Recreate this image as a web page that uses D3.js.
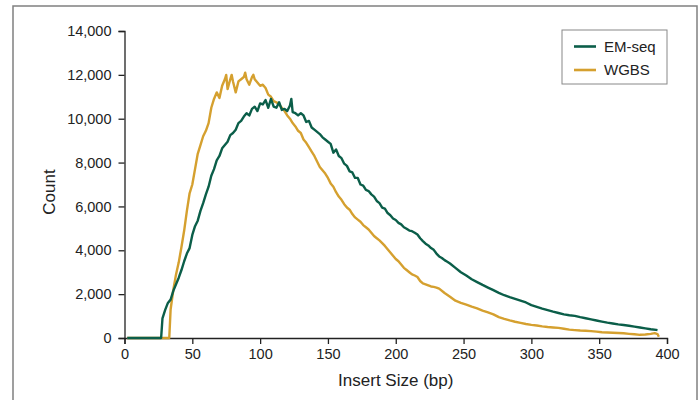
<!DOCTYPE html>
<html>
<head>
  <meta charset="utf-8">
  <title>Insert size distribution</title>
  <script src="https://cdn.jsdelivr.net/npm/d3@7"></script>
  <style>
    body { margin: 0; background: #fff; }
    svg { font-family: "Liberation Sans", Arial, sans-serif; }
    .axis text { font-size: 14.5px; fill: #222; }
    .axis path, .axis line { stroke: #222; stroke-width: 1.3; }
  </style>
</head>
<body>
  <div id="chart"></div>
  <script type="text/javascript">
    // insert size (bp) / read count
    var emSize = [2, 27, 28, 30, 32, 34, 36, 38, 40, 42, 44, 46, 48, 50, 52, 54, 56, 58, 60, 62, 64, 66, 68, 70, 72, 74, 76, 78, 80, 82, 84, 86, 88, 90, 92, 94, 96, 98, 100, 102, 104, 106, 108, 110, 112, 114, 116, 118, 120, 122, 123, 124, 126, 128, 130, 132, 134, 136, 138, 140, 142, 144, 146, 148, 150, 152, 154, 156, 158, 160, 162, 164, 166, 168, 170, 172, 174, 176, 178, 180, 182, 184, 186, 188, 190, 192, 194, 196, 198, 200, 202, 204, 206, 208, 210, 212, 214, 216, 218, 220, 222, 224, 226, 228, 230, 232, 234, 236, 238, 240, 244, 248, 252, 256, 260, 264, 268, 272, 276, 280, 284, 288, 292, 296, 300, 304, 308, 312, 316, 320, 324, 328, 332, 336, 340, 344, 348, 352, 356, 360, 364, 368, 372, 376, 380, 384, 388, 392, 393];
    var emCount = [0, 0, 900, 1280, 1600, 1750, 2150, 2450, 2750, 3100, 3500, 3850, 4100, 4700, 5100, 5350, 5800, 6150, 6550, 6900, 7400, 7700, 8100, 8300, 8650, 8800, 8950, 9250, 9350, 9500, 9800, 9900, 10100, 10250, 10150, 10450, 10550, 10350, 10700, 10650, 10850, 10500, 10900, 10550, 10500, 10750, 10400, 10450, 10350, 10600, 10900, 10300, 10250, 10150, 10250, 10150, 9850, 9900, 9600, 9500, 9400, 9300, 9150, 9050, 8950, 8850, 8450, 8600, 8300, 8200, 7950, 7850, 7600, 7550, 7300, 7300, 7000, 6950, 6750, 6700, 6550, 6450, 6250, 6150, 5950, 5900, 5700, 5600, 5450, 5380, 5250, 5180, 5050, 4980, 4900, 4870, 4800, 4720, 4550, 4420, 4300, 4220, 4100, 4020, 3850, 3720, 3650, 3550, 3480, 3400, 3200, 3000, 2850, 2680, 2550, 2420, 2300, 2180, 2060, 1950, 1860, 1780, 1700, 1620, 1500, 1420, 1340, 1270, 1200, 1140, 1080, 1040, 1010, 950, 900, 850, 800, 750, 700, 660, 620, 590, 560, 520, 480, 440, 400, 370, 360];

    var wgSize = [2, 33, 34, 36, 38, 40, 42, 44, 46, 48, 50, 52, 54, 56, 58, 60, 62, 64, 66, 68, 70, 72, 74, 75, 76, 78, 79, 80, 82, 84, 86, 88, 89, 90, 92, 94, 95, 96, 98, 100, 102, 104, 106, 108, 110, 112, 114, 116, 118, 120, 122, 124, 126, 128, 130, 132, 134, 136, 138, 140, 142, 144, 146, 148, 150, 152, 154, 156, 158, 160, 162, 164, 166, 168, 170, 172, 174, 176, 178, 180, 182, 184, 186, 188, 190, 192, 194, 196, 198, 200, 202, 204, 206, 208, 210, 212, 214, 216, 218, 220, 222, 224, 226, 228, 230, 232, 236, 240, 244, 248, 252, 256, 260, 264, 268, 272, 276, 280, 284, 288, 292, 296, 300, 304, 308, 312, 316, 320, 324, 328, 332, 336, 340, 344, 348, 352, 356, 360, 364, 368, 372, 376, 380, 384, 388, 391, 393, 394];
    var wgCount = [0, 0, 1300, 2200, 2900, 3450, 4150, 4900, 5800, 6600, 7000, 7700, 8400, 8800, 9200, 9450, 9800, 10500, 10900, 11200, 10950, 11500, 11800, 12000, 11350, 11800, 12000, 11700, 11200, 11700, 11800, 11900, 12100, 11800, 11550, 11900, 12000, 11800, 11650, 11500, 11550, 11400, 11100, 11000, 10800, 10750, 10650, 10500, 10350, 10150, 10000, 9800, 9650, 9450, 9350, 9050, 8900, 8700, 8500, 8300, 8050, 7800, 7650, 7500, 7300, 7050, 6900, 6650, 6450, 6300, 6100, 5950, 5850, 5650, 5500, 5400, 5300, 5150, 5050, 4950, 4800, 4650, 4550, 4450, 4330, 4200, 4050, 3900, 3750, 3600, 3500, 3350, 3200, 3100, 3000, 2900, 2850, 2780, 2600, 2490, 2450, 2400, 2350, 2330, 2300, 2250, 2050, 1880, 1700, 1600, 1520, 1430, 1350, 1250, 1170, 1080, 950, 870, 800, 740, 690, 640, 600, 570, 530, 500, 480, 460, 420, 380, 360, 340, 330, 315, 290, 260, 250, 240, 225, 215, 190, 170, 145, 160, 190, 220, 180, 60];

    var xTicks = [0, 50, 100, 150, 200, 250, 300, 350, 400];
    var yTicks = [0, 2000, 4000, 6000, 8000, 10000, 12000, 14000];
    var seriesNames = ["EM-seq", "WGBS"];
    var seriesColors = ["#0b5e49", "#d5a02f"];

    var width = 699, height = 400;
    var svg = d3.select("#chart").append("svg")
      .attr("width", width).attr("height", height);

    // outer frame
    svg.append("rect")
      .attr("x", 13).attr("y", 6)
      .attr("width", 684).attr("height", 420)
      .attr("fill", "none").attr("stroke", "#808080").attr("stroke-width", 1.5);

    var x = d3.scaleLinear().domain([0, 400]).range([124.5, 667]);
    var y = d3.scaleLinear().domain([0, 14000]).range([338, 31]);

    svg.append("g").attr("class", "axis")
      .attr("transform", "translate(0,338)")
      .call(d3.axisBottom(x).tickValues(xTicks).tickSizeOuter(0).tickSize(6).tickPadding(5));

    svg.append("g").attr("class", "axis")
      .attr("transform", "translate(124.5,0)")
      .call(d3.axisLeft(y).tickValues(yTicks).tickFormat(d3.format(",")).tickSizeOuter(0).tickSize(6).tickPadding(7));

    svg.append("text")
      .attr("x", (124.5 + 667) / 2).attr("y", 386)
      .attr("text-anchor", "middle")
      .style("font-size", "17px").attr("fill", "#222")
      .text("Insert Size (bp)");

    svg.append("text")
      .attr("transform", "translate(55,192) rotate(-90)")
      .attr("text-anchor", "middle")
      .style("font-size", "17px").attr("fill", "#222")
      .text("Count");

    var line = d3.line()
      .x(function(d) { return x(d[0]); })
      .y(function(d) { return y(d[1]); });

    var wg = d3.zip(wgSize, wgCount);
    var em = d3.zip(emSize, emCount);

    svg.append("path").datum(wg)
      .attr("d", line)
      .attr("fill", "none").attr("stroke", seriesColors[1])
      .attr("stroke-width", 2.4).attr("stroke-linejoin", "round");

    svg.append("path").datum(em)
      .attr("d", line)
      .attr("fill", "none").attr("stroke", seriesColors[0])
      .attr("stroke-width", 2.4).attr("stroke-linejoin", "round");

    // legend
    var legend = svg.append("g").attr("transform", "translate(562,30)");
    legend.append("rect")
      .attr("width", 105).attr("height", 54)
      .attr("fill", "#fff").attr("stroke", "#888").attr("stroke-width", 1);
    seriesNames.forEach(function(name, i) {
      var ly = 16.5 + i * 23.5;
      legend.append("line")
        .attr("x1", 12).attr("x2", 34).attr("y1", ly).attr("y2", ly)
        .attr("stroke", seriesColors[i]).attr("stroke-width", 2.6);
      legend.append("text")
        .attr("x", 42).attr("y", ly).attr("dy", "0.35em")
        .style("font-size", "15px").attr("fill", "#222")
        .text(name);
    });
  </script>
</body>
</html>
